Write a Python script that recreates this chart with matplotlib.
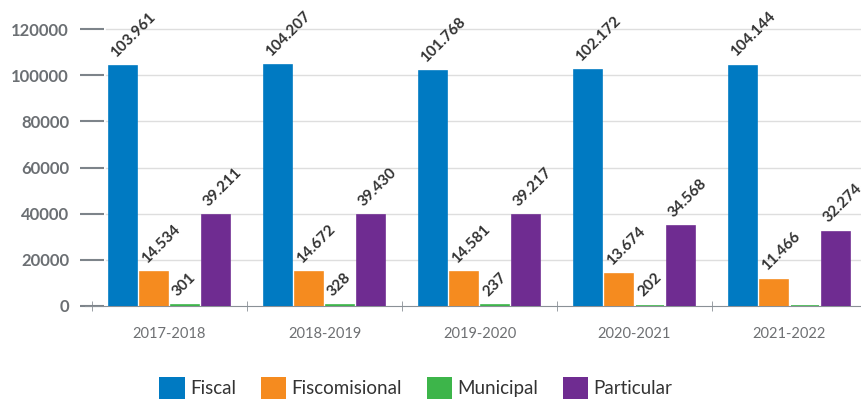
import numpy as np
import matplotlib
matplotlib.use("Agg")
import matplotlib.pyplot as plt
from matplotlib.patches import Patch

plt.rcParams["font.family"] = ["Lato", "DejaVu Sans"]

years = ["2017-2018", "2018-2019", "2019-2020", "2020-2021", "2021-2022"]
fiscal = [103961, 104207, 101768, 102172, 104144]
fiscomisional = [14534, 14672, 14581, 13674, 11466]
municipal = [301, 328, 237, 202, 0]
particular = [39211, 39430, 39217, 34568, 32274]

series = ["Fiscal", "Fiscomisional", "Municipal", "Particular"]
colors = ["#007ac2", "#f58b1f", "#3db54a", "#6f2c91"]
values = [fiscal, fiscomisional, municipal, particular]

fig = plt.figure(figsize=(8.61, 4.01), dpi=100)
ax = fig.add_axes([92 / 861, 95 / 401, 775 / 861, 277 / 401])

x = np.arange(len(years))
offsets = [-0.3, -0.1, 0.1, 0.3]
for vals, col, off in zip(values, colors, offsets):
    # thin edge in the bar colour so the tiny Municipal bars stay visible
    bars = ax.bar(x + off, vals, width=0.18, color=col, edgecolor=col,
                  linewidth=1.2, zorder=3)
    for b, v in zip(bars, vals):
        if v == 0:
            continue
        ax.annotate(f"{v:,}".replace(",", "."),
                    (b.get_x() + b.get_width() / 2, v),
                    xytext=(-5, 6), textcoords="offset pixels",
                    rotation=45, rotation_mode="anchor", ha="left", va="bottom",
                    fontsize=11, fontweight="bold", color="#333333",
                    annotation_clip=False, zorder=4)

ax.set_xlim(-0.5, 4.5)
ax.set_ylim(0, 120000)
ax.set_yticks(range(0, 120001, 20000))
ax.set_yticklabels([str(t) for t in range(0, 120001, 20000)],
                   fontsize=12, fontweight="bold", color="#6b6f73")
for t in range(20000, 120001, 20000):
    ax.plot([-0.41, 4.5], [t, t], color="#dedede", lw=1, zorder=1, clip_on=False)
ax.tick_params(axis="y", direction="inout", length=17, width=1.5, color="#7d848a", pad=8)

ax.set_xticks(x)
ax.set_xticklabels(years, fontsize=10.5, color="#6e7073")
ax.set_xticks(np.arange(-0.5, 5, 1), minor=True)
ax.tick_params(axis="x", which="major", length=0, pad=15)
ax.tick_params(axis="x", which="minor", direction="inout", length=7, color="#8a9096")

for s in ["top", "right", "left"]:
    ax.spines[s].set_visible(False)
ax.spines["bottom"].set_color("#8a9096")
ax.spines["bottom"].set_bounds(-0.545, 4.5)

handles = [Patch(facecolor=c, label=s) for s, c in zip(series, colors)]
fig.legend(handles=handles, loc="center", bbox_to_anchor=(416 / 861, 1 - 388 / 401),
           ncol=4, frameon=False, fontsize=13.5, handlelength=1.35, handleheight=1.35,
           handletextpad=0.3, columnspacing=1.3, labelcolor="#333333")

fig.savefig("out.png", dpi=100)
